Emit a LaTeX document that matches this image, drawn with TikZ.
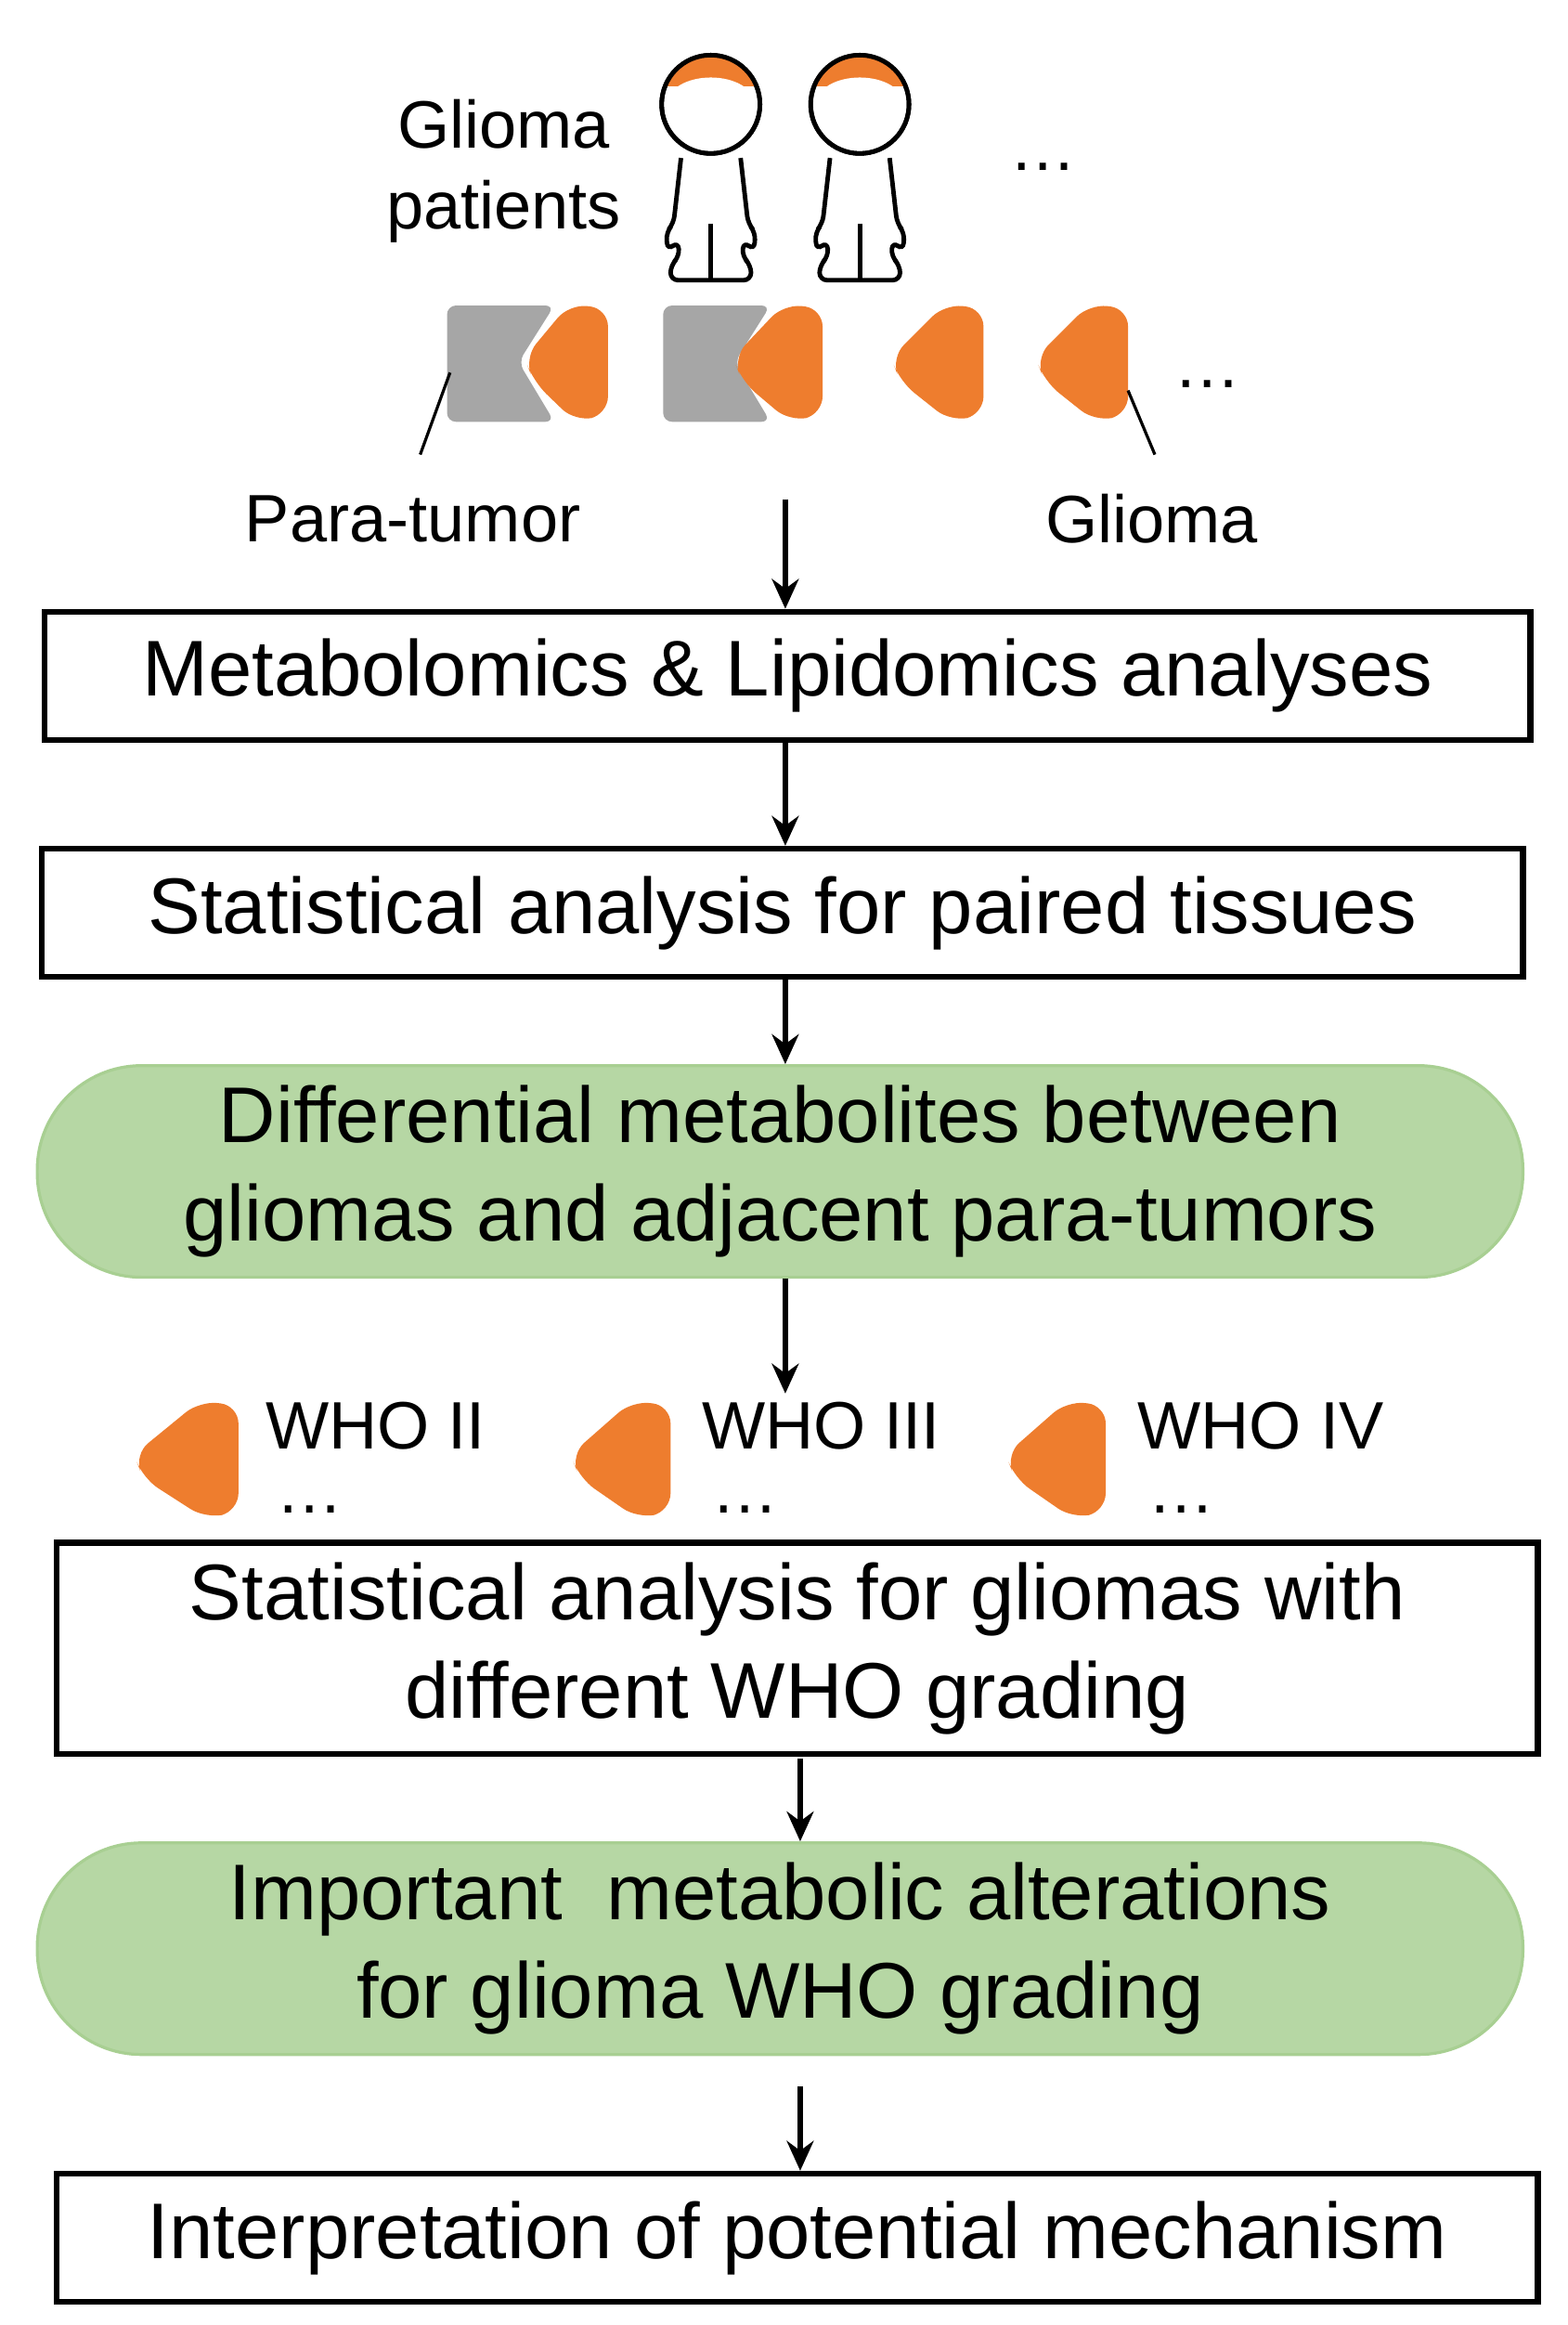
\documentclass[tikz,border=0pt]{standalone}
\usepackage{fontspec}
\setmainfont{Liberation Sans}
\usetikzlibrary{arrows.meta}
\definecolor{org}{HTML}{EE7D2E}
\definecolor{gry}{HTML}{A6A6A6}
\definecolor{grn}{HTML}{B6D7A4}
\definecolor{grnb}{HTML}{A8CF92}
\newcommand\orgblob[3]{% left x, right x, top y
  \fill[org,rounded corners=12] (#2,#3+3) -- (#2,#3+74) -- (#2-22,#3+79) -- (#1+6,#3+52) -- (#1,#3+36) -- (#2-26,#3) -- cycle;}
\newcommand\grayblk[2]{% left x, top y
  \fill[gry,rounded corners=6] (#1,#2) -- (#1+72,#2) -- (#1+48,#2+38) -- (#1+72,#2+78) -- (#1,#2+78) -- cycle;}
\newcommand\person[1]{%
  \begin{scope}[shift={(#1,0)},line width=3pt]
    \draw[fill=white] (0,70) circle (33);
    \begin{scope}
      \clip (0,70) circle (33);
      \fill[org] (-40,20) rectangle (40,58);
      \fill[white] (0,69) ellipse (29 and 17);
    \end{scope}
    \draw (0,70) circle (33);
    \draw[fill=white,rounded corners=5] (-20,106) -- (-25,150) -- (-30,156) -- (-29,168) -- (-22,162) -- (-21,172) -- (-27,178) -- (-27,188) -- (27,188) -- (27,178) -- (21,172) -- (22,162) -- (29,168) -- (30,156) -- (25,150) -- (20,106);
    \draw (0,150) -- (0,188);
  \end{scope}}
\tikzset{
  box/.style={draw,line width=4pt,minimum height=86pt,align=center,font=\fontsize{53}{66}\selectfont},
  gbox/.style={fill=grn,draw=grnb,line width=2pt,rounded corners=70pt,align=center,font=\fontsize{53}{66}\selectfont},
  arr/.style={-{Stealth[length=20pt,width=18pt]},line width=3.5pt},
  lbl/.style={font=\fontsize{45}{54}\selectfont,align=center,inner sep=0},
  lnk/.style={line width=2pt}
}
\begin{document}
\begin{tikzpicture}[x=1pt,y=-1pt]
\useasboundingbox (0,0) rectangle (1052,1560);
% patients
\node[lbl] (gp) at (338,115) {Glioma\\patients};
\person{477}
\person{577}
\node[lbl] (d1) at (700,112) {\dots};
% tissues
\grayblk{300}{205}
\orgblob{352}{408}{204}
\grayblk{445}{205}
\orgblob{492}{552}{204}
\orgblob{598}{660}{204}
\orgblob{695}{757}{204}
\node[lbl] (d2) at (810,258) {\dots};
\node[lbl] (pt) at (277,348) {Para-tumor};
\node[lbl] (gl) at (773,348) {Glioma};
\coordinate (pta) at (302,250);
\coordinate (gla) at (757,262);
\coordinate (ptb) at (282,305);
\coordinate (glb) at (775,305);
\draw[lnk] (pta) -- (ptb);
\draw[lnk] (gla) -- (glb);
\coordinate (a0) at (527,335);
\coordinate (a1) at (537,0);
% boxes
\node[box,minimum width=997pt] (b1) at (528.5,453.5) {Metabolomics \& Lipidomics analyses};
\node[box,minimum width=994pt] (b2) at (525,612.5) {Statistical analysis for paired tissues};
\node[gbox,minimum width=997pt,minimum height=142pt] (g1) at (523.5,786) {Differential metabolites between\\gliomas and adjacent para-tumors};
\node[box,minimum width=994pt,minimum height=142pt] (b3) at (535,1106) {Statistical analysis for gliomas with\\different WHO grading};
\node[gbox,minimum width=997pt,minimum height=142pt] (g2) at (523.5,1307.5) {Important\ \ metabolic alterations\\for glioma WHO grading};
\node[box,minimum width=994pt] (b4) at (535,1501.5) {Interpretation of potential mechanism};
% WHO row
\orgblob{90}{160}{940}
\orgblob{383}{450}{940}
\orgblob{675}{742}{940}
\node[lbl] (w2) at (252,957) {WHO II};
\node[lbl] (w3) at (551,957) {WHO III};
\node[lbl] (w4) at (846,957) {WHO IV};
\node[lbl] at (208,1013) {\dots};
\node[lbl] at (500,1013) {\dots};
\node[lbl] at (793,1013) {\dots};
\coordinate (wt) at (527,935);
\coordinate (c1) at (537,1180);
\coordinate (c2) at (537,1400);
% arrows
\draw[arr] (a0) -- (b1.north -| a0);
\draw[arr] (b1.south -| a0) -- (b2.north -| a0);
\draw[arr] (b2.south -| a0) -- (g1.north -| a0);
\draw[arr] (g1.south -| a0) -- (wt);
\draw[arr] (c1) -- (g2.north -| a1);
\draw[arr] (c2) -- (b4.north -| a1);
\end{tikzpicture}
\end{document}
